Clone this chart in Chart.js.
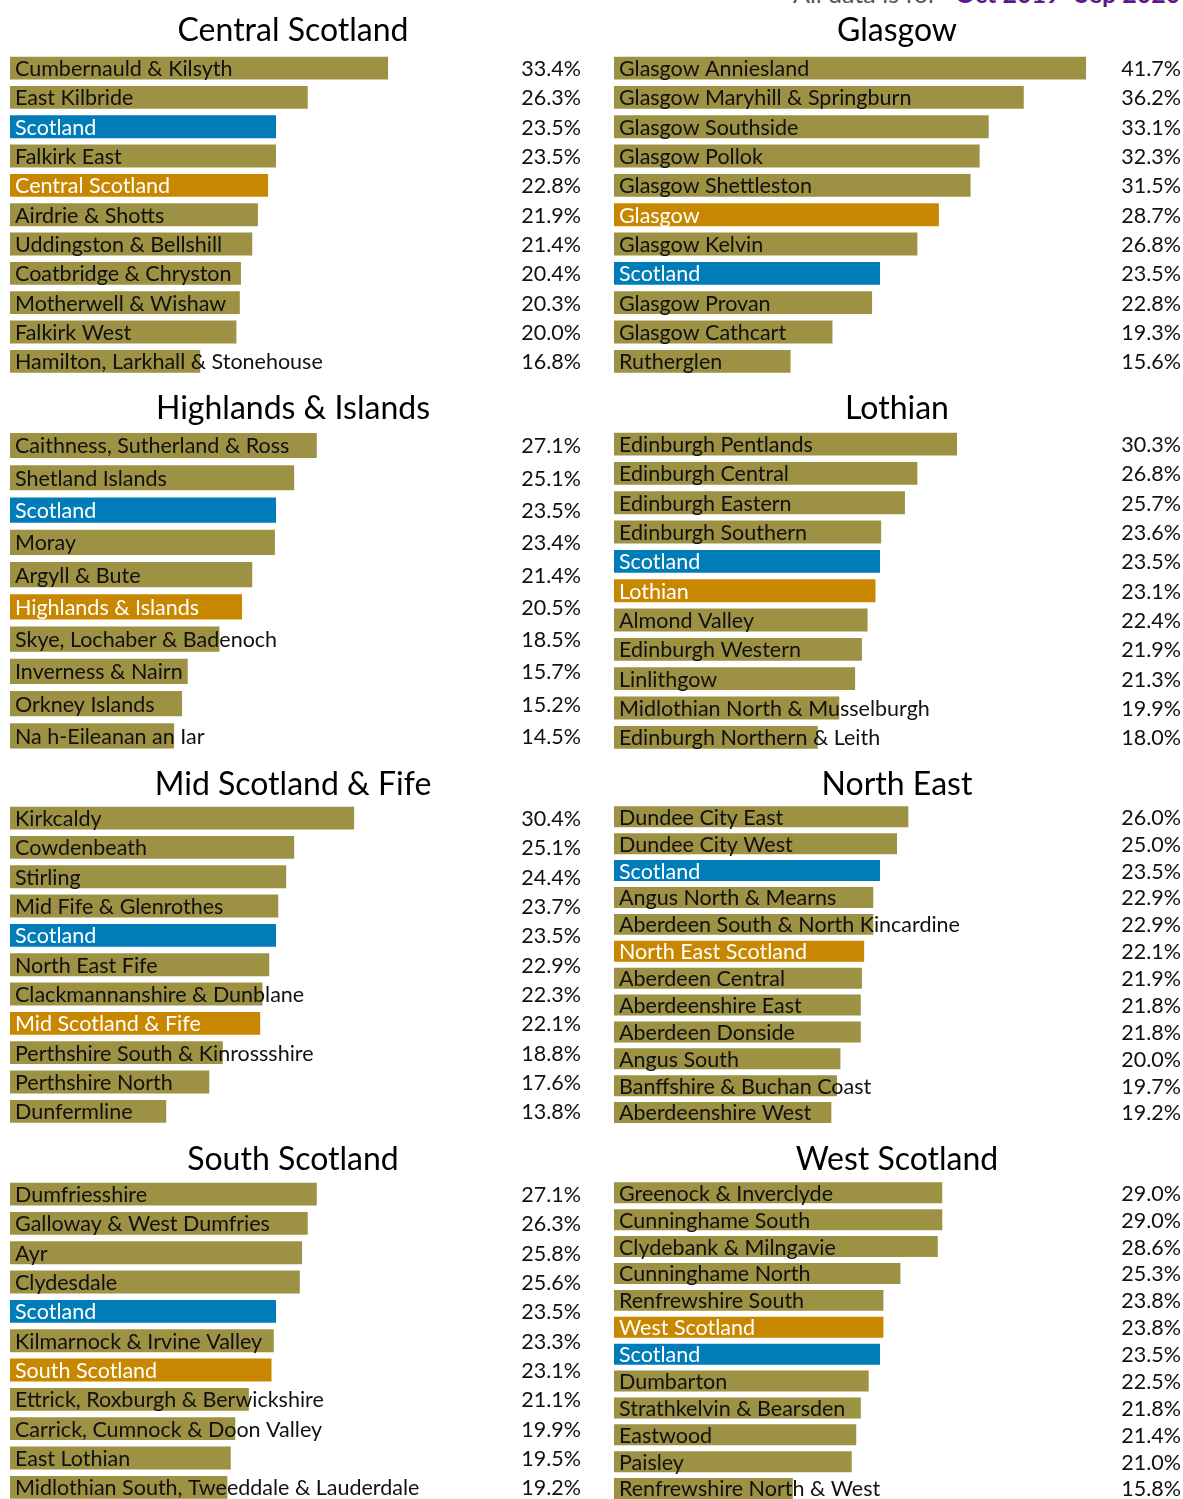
<!DOCTYPE html>
<html>
<head>
<meta charset="utf-8">
<script src="https://cdn.jsdelivr.net/npm/chart.js@4/dist/chart.umd.min.js"></script>
<style>
  html, body { margin: 0; padding: 0; background: #fff; overflow: hidden; }
  body { width: 1183px; height: 1499px; position: relative; font-family: Lato, "Open Sans", sans-serif; }
  .panel { position: absolute; }
  .header { position: absolute; top: -22px; left: 793px; font-size: 25px; line-height: 30px; white-space: nowrap; color: #555; }
  .header b { color: #5b1a8b; font-weight: 700; margin-left: 18px; }
</style>
</head>
<body>
<div class="header">All data is for<b>Oct 2019–Sep 2020</b></div>

<script>
// ── Dados ──────────────────────────────────────────────────────────────────
const centralLabels = ['Cumbernauld & Kilsyth', 'East Kilbride', 'Scotland', 'Falkirk East', 'Central Scotland',
    'Airdrie & Shotts', 'Uddingston & Bellshill', 'Coatbridge & Chryston', 'Motherwell & Wishaw', 'Falkirk West',
    'Hamilton, Larkhall & Stonehouse'];
const centralValues = [33.4, 26.3, 23.5, 23.5, 22.8, 21.9, 21.4, 20.4, 20.3, 20.0, 16.8];

const glasgowLabels = ['Glasgow Anniesland', 'Glasgow Maryhill & Springburn', 'Glasgow Southside', 'Glasgow Pollok',
    'Glasgow Shettleston', 'Glasgow', 'Glasgow Kelvin', 'Scotland', 'Glasgow Provan', 'Glasgow Cathcart', 'Rutherglen'];
const glasgowValues = [41.7, 36.2, 33.1, 32.3, 31.5, 28.7, 26.8, 23.5, 22.8, 19.3, 15.6];

const highlandsLabels = ['Caithness, Sutherland & Ross', 'Shetland Islands', 'Scotland', 'Moray', 'Argyll & Bute',
    'Highlands & Islands', 'Skye, Lochaber & Badenoch', 'Inverness & Nairn', 'Orkney Islands', 'Na h-Eileanan an Iar'];
const highlandsValues = [27.1, 25.1, 23.5, 23.4, 21.4, 20.5, 18.5, 15.7, 15.2, 14.5];

const lothianLabels = ['Edinburgh Pentlands', 'Edinburgh Central', 'Edinburgh Eastern', 'Edinburgh Southern', 'Scotland',
    'Lothian', 'Almond Valley', 'Edinburgh Western', 'Linlithgow', 'Midlothian North & Musselburgh',
    'Edinburgh Northern & Leith'];
const lothianValues = [30.3, 26.8, 25.7, 23.6, 23.5, 23.1, 22.4, 21.9, 21.3, 19.9, 18.0];

const midFifeLabels = ['Kirkcaldy', 'Cowdenbeath', 'Stirling', 'Mid Fife & Glenrothes', 'Scotland', 'North East Fife',
    'Clackmannanshire & Dunblane', 'Mid Scotland & Fife', 'Perthshire South & Kinrossshire', 'Perthshire North',
    'Dunfermline'];
const midFifeValues = [30.4, 25.1, 24.4, 23.7, 23.5, 22.9, 22.3, 22.1, 18.8, 17.6, 13.8];

const northEastLabels = ['Dundee City East', 'Dundee City West', 'Scotland', 'Angus North & Mearns',
    'Aberdeen South & North Kincardine', 'North East Scotland', 'Aberdeen Central', 'Aberdeenshire East',
    'Aberdeen Donside', 'Angus South', 'Banffshire & Buchan Coast', 'Aberdeenshire West'];
const northEastValues = [26.0, 25.0, 23.5, 22.9, 22.9, 22.1, 21.9, 21.8, 21.8, 20.0, 19.7, 19.2];

const southLabels = ['Dumfriesshire', 'Galloway & West Dumfries', 'Ayr', 'Clydesdale', 'Scotland',
    'Kilmarnock & Irvine Valley', 'South Scotland', 'Ettrick, Roxburgh & Berwickshire', 'Carrick, Cumnock & Doon Valley',
    'East Lothian', 'Midlothian South, Tweeddale & Lauderdale'];
const southValues = [27.1, 26.3, 25.8, 25.6, 23.5, 23.3, 23.1, 21.1, 19.9, 19.5, 19.2];

const westLabels = ['Greenock & Inverclyde', 'Cunninghame South', 'Clydebank & Milngavie', 'Cunninghame North',
    'Renfrewshire South', 'West Scotland', 'Scotland', 'Dumbarton', 'Strathkelvin & Bearsden', 'Eastwood', 'Paisley',
    'Renfrewshire North & West'];
const westValues = [29.0, 29.0, 28.6, 25.3, 23.8, 23.8, 23.5, 22.5, 21.8, 21.4, 21.0, 15.8];

// Títulos dos painéis e a linha agregada de cada região (barra laranja)
const panelTitles = ['Central Scotland', 'Glasgow', 'Highlands & Islands', 'Lothian',
    'Mid Scotland & Fife', 'North East', 'South Scotland', 'West Scotland'];
const regionRows = ['Central Scotland', 'Glasgow', 'Highlands & Islands', 'Lothian',
    'Mid Scotland & Fife', 'North East Scotland', 'South Scotland', 'West Scotland'];

const panelLabels = [centralLabels, glasgowLabels, highlandsLabels, lothianLabels,
    midFifeLabels, northEastLabels, southLabels, westLabels];
const panelValues = [centralValues, glasgowValues, highlandsValues, lothianValues,
    midFifeValues, northEastValues, southValues, westValues];

// ── Estilo ────────────────────────────────────────────────────────────────
const COLORS = { olive: '#9d9143', blue: '#007cb9', orange: '#c88700' };
const FONT = 'Lato, "Open Sans", sans-serif';
const ROW_H = 376;
const ROW_TOPS = [0, 376, 750, 1126];   // topo de cada linha de painéis
const TITLE_SHIFT = [0, 2, 4, 3];       // títulos descem um pouco nas linhas de baixo

// Desenha o nome dentro da barra e o valor na direita
const barText = {
    id: 'barText',
    afterDatasetsDraw(chart) {
        const { ctx, chartArea } = chart;
        const meta = chart.getDatasetMeta(0);
        const ds = chart.data.datasets[0];
        ctx.save();
        ctx.font = `21.5px ${FONT}`;
        ctx.textBaseline = 'middle';
        meta.data.forEach((bar, i) => {
            const y = bar.y + 1;
            ctx.fillStyle = ds.textColors[i];
            ctx.textAlign = 'left';
            ctx.fillText(chart.data.labels[i], chartArea.left + 5, y);
            ctx.fillStyle = '#111';
            ctx.textAlign = 'right';
            ctx.fillText(ds.data[i].toFixed(1) + '%', chart.width - 2, y);
        });
        ctx.restore();
    }
};

function makePanel(idx) {
    const col = idx % 2;
    const row = Math.floor(idx / 2);
    const left = col === 0 ? 0 : 604;
    const width = col === 0 ? 583 : 579;

    const div = document.createElement('div');
    div.className = 'panel';
    div.style.left = left + 'px';
    div.style.top = ROW_TOPS[row] + 'px';
    const canvas = document.createElement('canvas');
    canvas.width = width;
    canvas.height = ROW_H;
    canvas.style.width = width + 'px';
    canvas.style.height = ROW_H + 'px';
    div.appendChild(canvas);
    document.body.appendChild(div);

    const labels = panelLabels[idx];
    const values = panelValues[idx];
    const colors = labels.map(l => l === 'Scotland' ? COLORS.blue
        : (l === regionRows[idx] ? COLORS.orange : COLORS.olive));
    const textColors = labels.map(l => (l === 'Scotland' || l === regionRows[idx]) ? '#fff' : '#111');

    new Chart(canvas.getContext('2d'), {
        type: 'bar',
        data: {
            labels,
            datasets: [{
                data: values,
                backgroundColor: colors,
                textColors,
                barPercentage: 0.78,
                categoryPercentage: 1
            }]
        },
        options: {
            indexAxis: 'y',
            responsive: false,
            animation: false,
            // área do gráfico: 10..576 px dentro de cada canvas (escala 0–50%)
            layout: { padding: { left: 10, right: width - 576, top: 0, bottom: 0 } },
            plugins: {
                legend: { display: false },
                tooltip: { enabled: false },
                title: {
                    display: true,
                    text: panelTitles[idx],
                    color: '#000',
                    font: { family: FONT, size: 32, weight: 'normal', lineHeight: 1.2 },
                    padding: { top: 11 + TITLE_SHIFT[row], bottom: 4 - TITLE_SHIFT[row] }
                }
            },
            scales: {
                x: { display: false, min: 0, max: 50 },
                y: { display: false }
            }
        },
        plugins: [barText]
    });
}

panelTitles.forEach((_, i) => makePanel(i));
</script>
</body>
</html>
